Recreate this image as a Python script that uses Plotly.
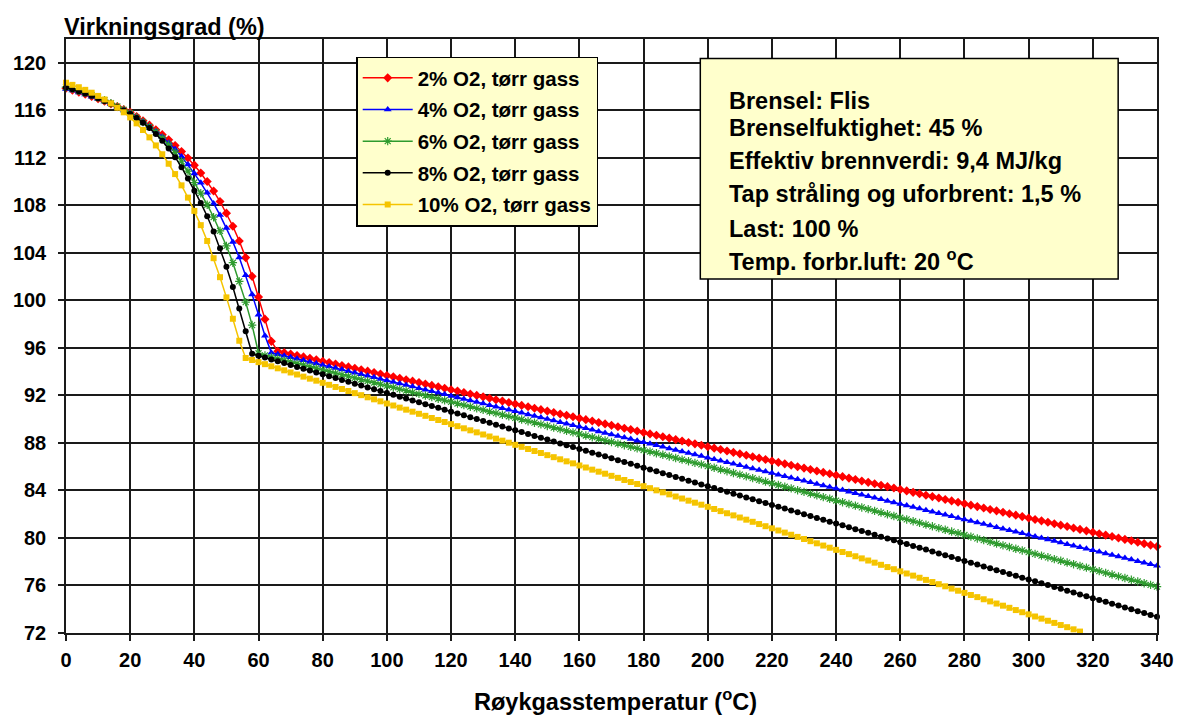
import plotly.graph_objects as go

# Flue gas temperature (degC), every 2 degrees
temps = list(range(0, 341, 2))

# Efficiency (%)
eff_2 = [
    117.85, 117.70, 117.53, 117.36, 117.17, 116.97, 116.76, 116.54, 116.31, 116.07,
    115.83, 115.48, 115.12, 114.75, 114.36, 113.95, 113.51, 113.04, 112.53, 111.98,
    111.38, 110.72, 110.00, 109.20, 108.32, 107.34, 106.24, 105.00, 103.60, 102.02,
    100.28, 98.42, 96.55, 95.72,
    95.60, 95.48, 95.36, 95.24, 95.12, 95.00, 94.88, 94.76, 94.64, 94.52,
    94.40, 94.28, 94.16, 94.04, 93.92, 93.80, 93.68, 93.56, 93.44, 93.32,
    93.20, 93.08, 92.96, 92.84, 92.72, 92.60, 92.48, 92.36, 92.24, 92.12,
    92.00, 91.88, 91.76, 91.64, 91.52, 91.40, 91.28, 91.16, 91.04, 90.92,
    90.80, 90.68, 90.56, 90.44, 90.32, 90.20, 90.08, 89.96, 89.84, 89.72,
    89.60, 89.48, 89.36, 89.24, 89.12, 89.00, 88.88, 88.76, 88.64, 88.52,
    88.40, 88.28, 88.16, 88.04, 87.92, 87.80, 87.68, 87.56, 87.44, 87.32,
    87.20, 87.08, 86.96, 86.84, 86.72, 86.60, 86.48, 86.36, 86.24, 86.12,
    86.00, 85.88, 85.76, 85.64, 85.52, 85.40, 85.28, 85.16, 85.04, 84.92,
    84.80, 84.68, 84.56, 84.44, 84.32, 84.20, 84.08, 83.96, 83.84, 83.72,
    83.60, 83.48, 83.36, 83.24, 83.12, 83.00, 82.88, 82.76, 82.64, 82.52,
    82.40, 82.28, 82.16, 82.04, 81.92, 81.80, 81.68, 81.56, 81.44, 81.32,
    81.20, 81.08, 80.96, 80.84, 80.72, 80.60, 80.48, 80.36, 80.24, 80.12,
    80.00, 79.88, 79.76, 79.64, 79.52, 79.40, 79.28,
]

eff_4 = [
    117.80, 117.66, 117.50, 117.33, 117.14, 116.94, 116.73, 116.51, 116.28, 116.04,
    115.80, 115.44, 115.06, 114.66, 114.23, 113.77, 113.27, 112.72, 112.11, 111.43,
    110.67, 109.89, 109.06, 108.16, 107.18, 106.10, 104.92, 103.60, 102.12, 100.50,
    98.78, 97.03,
    95.60, 95.47, 95.34, 95.21, 95.08, 94.95, 94.82, 94.69, 94.56, 94.43,
    94.30, 94.17, 94.04, 93.91, 93.78, 93.65, 93.52, 93.39, 93.26, 93.13,
    93.00, 92.87, 92.74, 92.61, 92.48, 92.35, 92.22, 92.09, 91.96, 91.83,
    91.70, 91.57, 91.44, 91.31, 91.18, 91.05, 90.92, 90.79, 90.66, 90.53,
    90.40, 90.27, 90.14, 90.01, 89.88, 89.75, 89.62, 89.49, 89.36, 89.23,
    89.10, 88.97, 88.84, 88.71, 88.58, 88.45, 88.32, 88.19, 88.06, 87.93,
    87.80, 87.67, 87.54, 87.41, 87.28, 87.15, 87.02, 86.89, 86.76, 86.63,
    86.50, 86.37, 86.24, 86.11, 85.98, 85.85, 85.72, 85.59, 85.46, 85.33,
    85.20, 85.07, 84.94, 84.81, 84.68, 84.55, 84.42, 84.29, 84.16, 84.03,
    83.90, 83.77, 83.64, 83.51, 83.38, 83.25, 83.12, 82.99, 82.86, 82.73,
    82.60, 82.47, 82.34, 82.21, 82.08, 81.95, 81.82, 81.69, 81.56, 81.43,
    81.30, 81.17, 81.04, 80.91, 80.78, 80.65, 80.52, 80.39, 80.26, 80.13,
    80.00, 79.87, 79.74, 79.61, 79.48, 79.35, 79.22, 79.09, 78.96, 78.83,
    78.70, 78.57, 78.44, 78.31, 78.18, 78.05, 77.92, 77.79, 77.66,
]

eff_6 = [
    117.95, 117.80, 117.64, 117.47, 117.28, 117.07, 116.84, 116.59, 116.32, 116.04,
    115.75, 115.39, 115.01, 114.61, 114.17, 113.67, 113.10, 112.45, 111.71, 110.87,
    109.92, 109.02, 108.05, 107.00, 105.85, 104.58, 103.17, 101.60, 99.85, 97.92,
    95.55,
    95.37, 95.23, 95.10, 94.96, 94.83, 94.69, 94.56, 94.42, 94.29, 94.15,
    94.02, 93.88, 93.75, 93.61, 93.48, 93.34, 93.21, 93.07, 92.94, 92.80,
    92.67, 92.53, 92.40, 92.26, 92.13, 91.99, 91.86, 91.72, 91.59, 91.45,
    91.32, 91.18, 91.05, 90.91, 90.78, 90.64, 90.51, 90.37, 90.24, 90.10,
    89.97, 89.83, 89.70, 89.56, 89.43, 89.29, 89.16, 89.02, 88.89, 88.75,
    88.62, 88.48, 88.35, 88.21, 88.08, 87.94, 87.81, 87.67, 87.54, 87.40,
    87.27, 87.13, 87.00, 86.86, 86.73, 86.59, 86.46, 86.32, 86.19, 86.05,
    85.91, 85.76, 85.62, 85.47, 85.33, 85.18, 85.04, 84.89, 84.75, 84.60,
    84.46, 84.31, 84.17, 84.02, 83.88, 83.73, 83.59, 83.44, 83.30, 83.15,
    83.01, 82.86, 82.72, 82.57, 82.43, 82.28, 82.14, 81.99, 81.85, 81.70,
    81.56, 81.41, 81.27, 81.12, 80.98, 80.83, 80.69, 80.54, 80.40, 80.25,
    80.11, 79.96, 79.82, 79.67, 79.53, 79.38, 79.24, 79.09, 78.95, 78.80,
    78.66, 78.51, 78.37, 78.22, 78.08, 77.93, 77.79, 77.64, 77.50, 77.35,
    77.21, 77.06, 76.92, 76.77, 76.63, 76.48, 76.34, 76.19, 76.05, 75.90,
]

eff_8 = [
    117.91, 117.76, 117.60, 117.42, 117.23, 117.02, 116.79, 116.54, 116.27, 115.98,
    115.68, 115.34, 114.95, 114.51, 114.01, 113.44, 112.79, 112.05, 111.21, 110.26,
    109.23, 108.20, 107.08, 105.80, 104.38, 102.83, 101.13, 99.31, 97.39,
    95.50, 95.34, 95.19, 95.03, 94.87, 94.72, 94.56, 94.40, 94.24, 94.09,
    93.93, 93.77, 93.62, 93.46, 93.30, 93.15, 92.99, 92.83, 92.67, 92.52,
    92.36, 92.20, 92.05, 91.89, 91.73, 91.58, 91.42, 91.26, 91.10, 90.95,
    90.79, 90.63, 90.48, 90.32, 90.16, 90.01, 89.85, 89.69, 89.53, 89.38,
    89.22, 89.06, 88.91, 88.75, 88.59, 88.44, 88.28, 88.12, 87.96, 87.81,
    87.65, 87.49, 87.34, 87.18, 87.02, 86.87, 86.71, 86.55, 86.39, 86.24,
    86.08, 85.92, 85.77, 85.61, 85.45, 85.30, 85.14, 84.98, 84.82, 84.67,
    84.51, 84.35, 84.20, 84.04, 83.88, 83.73, 83.57, 83.41, 83.25, 83.10,
    82.94, 82.78, 82.63, 82.47, 82.31, 82.16, 82.00, 81.84, 81.68, 81.53,
    81.37, 81.21, 81.06, 80.90, 80.74, 80.59, 80.43, 80.27, 80.11, 79.96,
    79.80, 79.64, 79.49, 79.33, 79.17, 79.02, 78.86, 78.70, 78.54, 78.39,
    78.23, 78.07, 77.92, 77.76, 77.60, 77.45, 77.29, 77.13, 76.97, 76.82,
    76.66, 76.50, 76.35, 76.19, 76.03, 75.88, 75.72, 75.56, 75.40, 75.25,
    75.09, 74.93, 74.78, 74.62, 74.46, 74.31, 74.15, 73.99, 73.83, 73.68,
    73.52, 73.36,
]

eff_10 = [
    118.32, 118.14, 117.94, 117.72, 117.48, 117.21, 116.91, 116.58, 116.22, 115.83,
    115.40, 114.90, 114.34, 113.72, 113.04, 112.30, 111.50, 110.63, 109.68, 108.65,
    107.53, 106.33, 105.00, 103.55, 101.95, 100.25, 98.45, 96.60,
    95.15, 94.98, 94.80, 94.63, 94.45, 94.28, 94.11, 93.93, 93.76, 93.58,
    93.41, 93.24, 93.06, 92.89, 92.71, 92.54, 92.37, 92.19, 92.02, 91.84,
    91.67, 91.50, 91.32, 91.15, 90.97, 90.80, 90.63, 90.45, 90.28, 90.10,
    89.93, 89.76, 89.58, 89.41, 89.23, 89.06, 88.89, 88.71, 88.54, 88.36,
    88.19, 88.02, 87.84, 87.67, 87.49, 87.32, 87.15, 86.97, 86.80, 86.62,
    86.45, 86.28, 86.10, 85.93, 85.75, 85.58, 85.41, 85.23, 85.06, 84.88,
    84.71, 84.54, 84.36, 84.19, 84.01, 83.84, 83.67, 83.49, 83.32, 83.14,
    82.97, 82.80, 82.62, 82.44, 82.26, 82.08, 81.90, 81.72, 81.54, 81.36,
    81.17, 80.99, 80.81, 80.63, 80.45, 80.27, 80.09, 79.91, 79.73, 79.55,
    79.36, 79.18, 79.00, 78.82, 78.64, 78.46, 78.28, 78.10, 77.92, 77.74,
    77.55, 77.37, 77.19, 77.01, 76.83, 76.65, 76.47, 76.29, 76.11, 75.93,
    75.74, 75.56, 75.38, 75.20, 75.02, 74.84, 74.66, 74.48, 74.30, 74.12,
    73.93, 73.75, 73.57, 73.39, 73.21, 73.03, 72.85, 72.67, 72.49, 72.31,
    72.12,
]

series_names = [
    "2% O2, tørr gass",
    "4% O2, tørr gass",
    "6% O2, tørr gass",
    "8% O2, tørr gass",
    "10% O2, tørr gass",
]
series_values = [eff_2, eff_4, eff_6, eff_8, eff_10]
series_colors = ["#FF0000", "#0000FF", "#2E9B2E", "#000000", "#F5C400"]
series_symbols = ["diamond", "triangle-up", "asterisk-open", "circle", "square"]
series_sizes = [7, 7, 7, 6, 6]

x_ticks = list(range(0, 341, 20))
y_ticks = list(range(72, 121, 4))

info_lines = [
    "Brensel: Flis",
    "Brenselfuktighet: 45 %",
    "Effektiv brennverdi: 9,4 MJ/kg",
    "Tap stråling og uforbrent: 1,5 %",
    "Last: 100 %",
    "Temp. forbr.luft: 20 <sup>o</sup>C",
]
info_y = [0.896, 0.851, 0.794, 0.7386, 0.680, 0.6285]

FONT = "Arial, 'Liberation Sans', sans-serif"

fig = go.Figure()
for i, (name, vals, col, sym, sz) in enumerate(
        zip(series_names, series_values, series_colors, series_symbols, series_sizes)):
    fig.add_trace(go.Scatter(
        x=temps[:len(vals)], y=vals, name=name, mode="lines+markers",
        legendgroup=str(i),
        line=dict(color=col, width=1.5),
        marker=dict(symbol=sym, size=sz, color=col,
                    line=dict(color=col, width=1.2 if sym.endswith("open") else 0)),
        cliponaxis=False,
    ))

fig.add_shape(type="rect", xref="paper", yref="paper",
              x0=0.5814, x1=0.9644, y0=0.596, y1=0.967,
              fillcolor="#FFFFCC", line=dict(color="black", width=1.5), layer="above")

for txt, yy in zip(info_lines, info_y):
    fig.add_annotation(x=0.606, y=yy, xref="paper", yref="paper", text=txt,
                       showarrow=False, xanchor="left", yanchor="middle",
                       font=dict(family=FONT, size=23.5, color="black", weight="bold"))

fig.add_annotation(x=-0.004, y=1.021, xref="paper", yref="paper",
                   text="Virkningsgrad (%)", showarrow=False,
                   xanchor="left", yanchor="middle",
                   font=dict(family=FONT, size=23.5, color="black", weight="bold"))
fig.add_annotation(x=0.504, y=-0.113, xref="paper", yref="paper",
                   text="Røykgasstemperatur (<sup>o</sup>C)", showarrow=False,
                   xanchor="center", yanchor="middle",
                   font=dict(family=FONT, size=23.5, color="black", weight="bold"))

axis_common = dict(
    showgrid=True, gridcolor="#1a1a1a", gridwidth=1.5,
    showline=True, linecolor="#1a1a1a", linewidth=1.5, mirror=True,
    ticks="outside", ticklen=6, tickcolor="#1a1a1a", tickwidth=1.5,
    tickfont=dict(family=FONT, size=20, color="black", weight="bold"),
    zeroline=False,
)

fig.update_xaxes(range=[0, 340], tickmode="array", tickvals=x_ticks,
                 ticklabelstandoff=2, **axis_common)
fig.update_yaxes(range=[72, 122], tickmode="array", tickvals=y_ticks,
                 ticklabelstandoff=8, **axis_common)

fig.update_layout(
    width=1186, height=717,
    margin=dict(l=66, r=26, t=39, b=84),
    paper_bgcolor="white", plot_bgcolor="white",
    font=dict(family=FONT, color="black"),
    showlegend=True,
    legend=dict(x=0.266, y=0.9705, xanchor="left", yanchor="top",
                bgcolor="#FFFFCC", bordercolor="black", borderwidth=1.5,
                font=dict(family=FONT, size=20.5, color="black", weight="bold"),
                tracegroupgap=2, traceorder="grouped",
                itemwidth=50),
)

fig.write_html("out.html")
